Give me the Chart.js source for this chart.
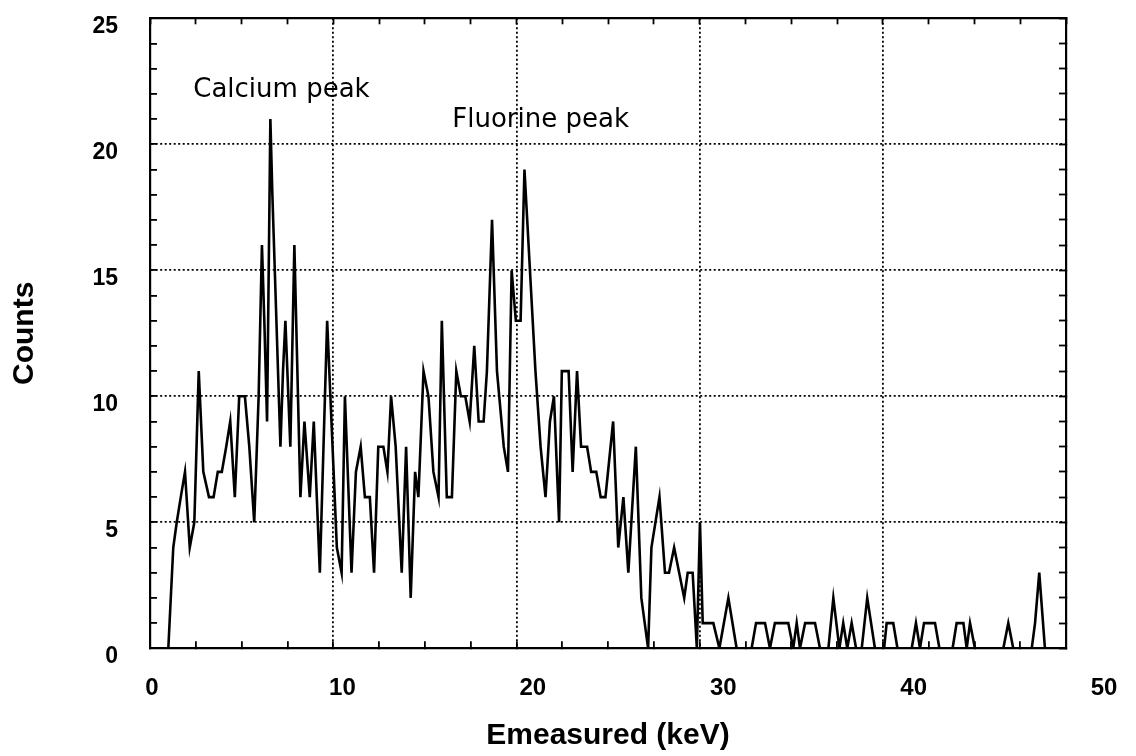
<!DOCTYPE html>
<html>
<head>
<meta charset="utf-8">
<script src="https://cdn.jsdelivr.net/npm/chart.js@4/dist/chart.umd.min.js"></script>
<style>
  html, body { margin: 0; padding: 0; background: #fff; }
  #wrap { width: 1136px; height: 756px; }
</style>
</head>
<body>
<div id="wrap"><canvas id="c" width="1136" height="756"></canvas></div>
<script>
// ---- data ----
const energies = [
  1.0, 1.27, 1.46, 1.68, 1.91, 2.17, 2.42, 2.66, 2.91, 3.22, 3.47, 3.7, 3.92, 4.16, 4.38, 4.63, 4.87, 5.18, 5.42, 5.69,
  5.93, 6.11, 6.24, 6.39, 6.57, 6.68, 7.12, 7.26, 7.39, 7.66, 7.88, 8.21, 8.43, 8.72, 8.94, 9.27, 9.67, 10.2, 10.46, 10.64,
  11.0, 11.24, 11.5, 11.73, 12.0, 12.23, 12.46, 12.74, 12.96, 13.16, 13.41, 13.74, 13.98, 14.23, 14.47, 14.65, 14.93, 15.2, 15.47, 15.75,
  15.93, 16.2, 16.48, 16.72, 16.97, 17.21, 17.45, 17.7, 17.94, 18.21, 18.39, 18.67, 18.94, 19.31, 19.54, 19.74, 19.97, 20.23, 20.44, 21.04,
  21.32, 21.59, 21.83, 22.05, 22.33, 22.48, 22.85, 23.07, 23.31, 23.53, 23.86, 24.08, 24.36, 24.6, 24.86, 25.28, 25.56, 25.84, 26.11, 26.52,
  26.82, 27.19, 27.37, 27.81, 28.11, 28.33, 28.61, 29.16, 29.35, 29.62, 29.85, 30.02, 30.17, 30.75, 31.08, 31.57, 32.02, 32.84, 33.08, 33.57,
  33.84, 34.11, 34.84, 35.11, 35.3, 35.48, 35.76, 36.3, 36.57, 37.03, 37.3, 37.63, 37.84, 38.06, 38.3, 38.54, 38.85, 39.15, 39.57, 40.07,
  40.21, 40.57, 40.8, 41.58, 41.81, 42.03, 42.25, 42.85, 43.09, 43.81, 44.03, 44.4, 44.58, 44.76, 45.03, 46.58, 46.85, 47.12, 48.13, 48.31,
  48.54, 48.85, 49.5
];
const counts = [
  0, 4, 5, 6, 7, 4, 5, 11, 7, 6, 6, 7, 7, 8, 9, 6, 10, 10, 8, 5,
  10, 16, 13, 9, 21, 18, 8, 11, 13, 8, 16, 6, 9, 6, 9, 3, 13, 4, 3, 10,
  3, 7, 8, 6, 6, 3, 8, 8, 7, 10, 8, 3, 8, 2, 7, 6, 11, 10, 7, 6,
  13, 6, 6, 11, 10, 10, 9, 12, 9, 9, 11, 17, 11, 8, 7, 15, 13, 13, 19, 11,
  8, 6, 9, 10, 5, 11, 11, 7, 11, 8, 8, 7, 7, 6, 6, 9, 4, 6, 3, 8,
  2, 0, 4, 6, 3, 3, 4, 2, 3, 3, 0, 5, 1, 1, 0, 2, 0, 0, 1, 1,
  0, 1, 1, 0, 1, 0, 1, 1, 0, 0, 2, 0, 1, 0, 1, 0, 0, 2, 0, 0,
  1, 1, 0, 0, 1, 0, 1, 1, 0, 0, 1, 1, 0, 1, 0, 0, 1, 0, 0, 1,
  3, 0, 0
];
const xTickLabels = [0, 10, 20, 30, 40, 50];
const yMajorStep = 5;
const xMajorStep = 10;
const annotations = [
  { text: 'Calcium peak', x: 2.36, y: 21.89 },
  { text: 'Fluorine peak', x: 16.5, y: 20.7 }
];

// ---- chart ----
const DOT = [2, 2.5];
const annotationPlugin = {
  id: 'peakLabels',
  afterDatasetsDraw(chart) {
    const { ctx, scales } = chart;
    ctx.save();
    ctx.font = '26px "DejaVu Sans"';
    ctx.fillStyle = '#000';
    ctx.textBaseline = 'alphabetic';
    ctx.textAlign = 'left';
    annotations.forEach(a => {
      ctx.fillText(a.text, scales.x.getPixelForValue(a.x), scales.y.getPixelForValue(a.y));
    });
    ctx.restore();
  }
};

new Chart(document.getElementById('c'), {
  type: 'line',
  data: {
    datasets: [{
      label: 'Counts',
      data: energies.map((e, i) => ({ x: e, y: counts[i] })),
      borderColor: '#000',
      borderWidth: 2.6,
      pointRadius: 0,
      tension: 0,
      fill: false
    }]
  },
  options: {
    responsive: false,
    animation: false,
    devicePixelRatio: 1,
    layout: { padding: { left: 0, top: 18.3, right: 70, bottom: 0 } },
    plugins: { legend: { display: false }, tooltip: { enabled: false } },
    scales: {
      x: {
        type: 'linear', position: 'bottom', min: 0, max: 50, weight: 0,
        ticks: { display: false, stepSize: 2.5 },
        grid: {
          color: c => (c.tick && c.tick.value % xMajorStep === 0) ? '#000' : 'rgba(0,0,0,0)',
          lineWidth: 1.8, tickLength: -7, tickColor: '#000', tickWidth: 1.8
        },
        border: { display: true, color: '#000', width: 2.2, dash: DOT },
        afterFit: s => { s.height = 0; s.paddingLeft = 0; s.paddingRight = 0; }
      },
      x2: {
        type: 'linear', position: 'bottom', min: -0.105, max: 48.0, weight: 1,
        grid: { display: false, drawTicks: false },
        border: { display: false },
        afterBuildTicks: s => { s.ticks = xTickLabels.map(v => ({ value: v })); },
        ticks: {
          autoSkip: false, maxRotation: 0, padding: 25.3, color: '#000',
          font: { family: '"Liberation Sans", Arial, sans-serif', size: 24, weight: 'bold' }
        },
        title: {
          display: true, text: 'Emeasured (keV)', color: '#000',
          font: { family: '"Liberation Sans", Arial, sans-serif', size: 30, weight: 'bold' },
          padding: { top: 0, bottom: 2 }
        },
        afterFit: s => { s.height = 107.7; s.paddingLeft = 0; s.paddingRight = 0; }
      },
      xTop: {
        type: 'linear', position: 'top', min: 0, max: 50,
        ticks: { display: false, stepSize: 2.5 },
        grid: { drawOnChartArea: false, tickLength: -6, tickColor: '#000', tickWidth: 1.8 },
        border: { display: true, color: '#000', width: 2.2 },
        afterFit: s => { s.height = 0; s.paddingLeft = 0; s.paddingRight = 0; }
      },
      y: {
        type: 'linear', position: 'left', min: 0, max: 25,
        ticks: {
          stepSize: 1, autoSkip: false, padding: 39, labelOffset: 8.5, color: '#000',
          font: { family: '"Liberation Sans", Arial, sans-serif', size: 23, weight: 'bold' },
          callback: v => (v % yMajorStep === 0 ? String(v) : '')
        },
        grid: {
          color: c => (c.tick && c.tick.value % yMajorStep === 0) ? '#000' : 'rgba(0,0,0,0)',
          lineWidth: 1.8, tickLength: -7, tickColor: '#000', tickWidth: 1.8
        },
        border: { display: true, color: '#000', width: 2.2, dash: DOT },
        title: {
          display: true, text: 'Counts', color: '#000',
          font: { family: '"Liberation Sans", Arial, sans-serif', size: 30, weight: 'bold' },
          padding: { top: 7, bottom: 0 }
        },
        afterFit: s => { s.width = 150; s.paddingTop = 0; s.paddingBottom = 0; }
      },
      yRight: {
        type: 'linear', position: 'right', min: 0, max: 25,
        ticks: { display: false, stepSize: 1 },
        grid: { drawOnChartArea: false, tickLength: -7, tickColor: '#000', tickWidth: 1.8 },
        border: { display: true, color: '#000', width: 2.2 },
        afterFit: s => { s.width = 0; s.paddingTop = 0; s.paddingBottom = 0; }
      }
    }
  },
  plugins: [annotationPlugin]
});
</script>
</body>
</html>
